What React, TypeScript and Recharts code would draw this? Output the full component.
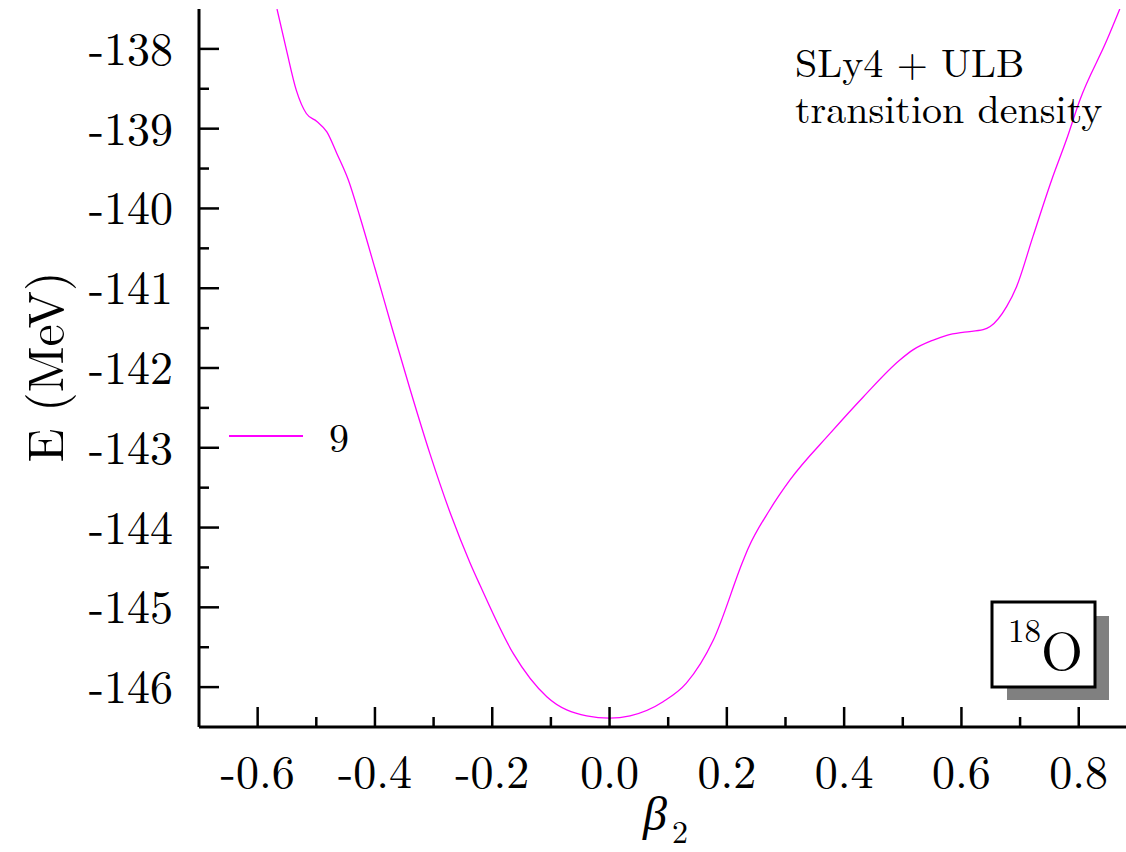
import React from "react";
import { LineChart, Line, XAxis, YAxis, Legend } from "recharts";

// beta_2 deformation and energy E (MeV)
const betaValues = [
  -0.567, -0.551, -0.534, -0.517, -0.499, -0.482, -0.465, -0.4455, -0.425, -0.4,
  -0.37, -0.34, -0.306, -0.27, -0.238, -0.221, -0.164, -0.107, -0.039, 0.0,
  0.035, 0.092, 0.131, 0.177, 0.228, 0.2365, 0.273, 0.308, 0.376, 0.433,
  0.495, 0.518, 0.552, 0.575, 0.605, 0.637, 0.649, 0.677, 0.694, 0.722,
  0.754, 0.779, 0.802, 0.848, 0.87,
];
const energyValues = [
  -137.5, -138.01, -138.52, -138.81, -138.91, -139.04, -139.31, -139.64, -140.12, -140.75,
  -141.52, -142.27, -143.08, -143.85, -144.44, -144.72, -145.58, -146.12, -146.36, -146.39,
  -146.36, -146.18, -145.95, -145.41, -144.41, -144.26, -143.78, -143.4, -142.82, -142.36,
  -141.9, -141.77, -141.65, -141.59, -141.55, -141.52, -141.48, -141.23, -140.98, -140.35,
  -139.64, -139.14, -138.64, -137.89, -137.5,
];

const xTicks = [-0.6, -0.5, -0.4, -0.3, -0.2, -0.1, 0.0, 0.1, 0.2, 0.3, 0.4, 0.5, 0.6, 0.7, 0.8];
const yTicks = [
  -146, -145.5, -145, -144.5, -144, -143.5, -143, -142.5, -142, -141.5, -141,
  -140.5, -140, -139.5, -139, -138.5, -138,
];
const seriesName = "9";

const data = betaValues.map((b, i) => ({ beta: b, E: energyValues[i] }));

const FONT =
  "'Latin Modern Roman', 'CMU Serif', 'Liberation Serif', 'DejaVu Serif', 'Noto Serif', 'Times New Roman', Times, serif";
const txt = { fontFamily: FONT };

const isMajorX = (v: number) => Math.abs(v * 5 - Math.round(v * 5)) < 1e-6;
const isMajorY = (v: number) => Number.isInteger(v);

const BottomTick = ({ x, y, payload }: any) => {
  const major = isMajorX(payload.value);
  return (
    <g>
      <line x1={x} y1={y} x2={x} y2={y - (major ? 20 : 10)} stroke="#000" strokeWidth={2.5} />
      {major && (
        <text x={x} y={y + 61} textAnchor="middle" fontSize={46} style={txt} fill="#000">
          {payload.value.toFixed(1)}
        </text>
      )}
    </g>
  );
};

const TopTick = ({ x, y, payload }: any) => {
  const major = isMajorX(payload.value);
  return <line x1={x} y1={y} x2={x} y2={y + (major ? 20 : 10)} stroke="#000" strokeWidth={2.5} />;
};

const LeftTick = ({ x, y, payload }: any) => {
  const major = isMajorY(payload.value);
  return (
    <g>
      <line x1={x} y1={y} x2={x + (major ? 20 : 10)} y2={y} stroke="#000" strokeWidth={2.5} />
      {major && (
        <text x={x - 26} y={y + 16} textAnchor="end" fontSize={46} style={txt} fill="#000">
          {String(payload.value)}
        </text>
      )}
    </g>
  );
};

const RightTick = ({ x, y, payload }: any) => {
  const major = isMajorY(payload.value);
  return <line x1={x} y1={y} x2={x - (major ? 20 : 10)} y2={y} stroke="#000" strokeWidth={2.5} />;
};

const renderLegend = () => (
  <svg width={150} height={50} style={{ overflow: "visible" }}>
    <line x1={0} y1={16} x2={74} y2={16} stroke="#ff00ff" strokeWidth={2} />
    <text x={100} y={32} fontSize={40} style={txt} fill="#000">
      {seriesName}
    </text>
  </svg>
);

export default function App() {
  return (
    <div
      style={{
        position: "absolute",
        left: 0,
        top: 0,
        width: 1126,
        height: 852,
        overflow: "hidden",
        background: "#fff",
      }}
    >
      <LineChart
        width={1130}
        height={852}
        data={data}
        margin={{ top: 9, right: 2, bottom: 0, left: 0 }}
      >
        <XAxis
          xAxisId="bottom"
          dataKey="beta"
          type="number"
          domain={[-0.7, 0.884]}
          allowDataOverflow
          ticks={xTicks}
          interval={0}
          height={125}
          tickSize={0}
          tickMargin={0}
          tick={<BottomTick />}
          axisLine={{ stroke: "#000", strokeWidth: 3 }}
        />
        <XAxis
          xAxisId="top"
          orientation="top"
          dataKey="beta"
          type="number"
          domain={[-0.7, 0.884]}
          allowDataOverflow
          ticks={xTicks}
          interval={0}
          height={0}
          tickSize={0}
          tickMargin={0}
          tick={<TopTick />}
          axisLine={{ stroke: "#000", strokeWidth: 3 }}
        />
        <YAxis
          yAxisId="left"
          type="number"
          domain={[-146.5, -137.5]}
          allowDataOverflow
          ticks={yTicks}
          interval={0}
          width={199}
          tickSize={0}
          tickMargin={0}
          tick={<LeftTick />}
          axisLine={{ stroke: "#000", strokeWidth: 3 }}
        />
        <YAxis
          yAxisId="right"
          orientation="right"
          type="number"
          domain={[-146.5, -137.5]}
          allowDataOverflow
          ticks={yTicks}
          interval={0}
          width={0}
          tickSize={0}
          tickMargin={0}
          tick={<RightTick />}
          axisLine={{ stroke: "#000", strokeWidth: 3 }}
        />
        <Legend
          layout="horizontal"
          verticalAlign="middle"
          align="center"
          content={renderLegend}
          wrapperStyle={{ position: "absolute", left: 229, top: 420, width: 150, height: 50 }}
        />
        <Line
          xAxisId="bottom"
          yAxisId="left"
          dataKey="E"
          name={seriesName}
          type="monotone"
          stroke="#ff00ff"
          strokeWidth={1.3}
          dot={false}
          activeDot={false}
          isAnimationActive={false}
        />
        <Line
          xAxisId="top"
          yAxisId="right"
          dataKey="E"
          stroke="none"
          dot={false}
          activeDot={false}
          legendType="none"
          isAnimationActive={false}
        />
      </LineChart>
      <svg
        width={1126}
        height={852}
        style={{ position: "absolute", left: 0, top: 0, pointerEvents: "none", fontFamily: FONT }}
      >
        <text x={795} y={77} fontSize={40} style={txt}>
          SLy4 + ULB
        </text>
        <text x={795} y={123} fontSize={40} style={txt}>
          transition density
        </text>
        <rect x={1007} y={616} width={102} height={84} fill="#808080" />
        <rect x={992} y={602} width={103} height={85} fill="#fff" stroke="#000" strokeWidth={3} />
        <text x={1008} y={642} fontSize={33} style={txt}>
          18
        </text>
        <text x={1041} y={670} fontSize={54} style={txt}>
          O
        </text>
        <text
          x={42}
          y={367}
          transform="rotate(-90, 42, 367)"
          textAnchor="middle"
          dominantBaseline="central"
          fontSize={50}
          style={txt}
        >
          E (MeV)
        </text>
        <text x={643} y={830} fontSize={48} style={txt} fontStyle="italic">
          β
        </text>
        <text x={672} y={843} fontSize={32} style={txt}>
          2
        </text>
      </svg>
    </div>
  );
}
